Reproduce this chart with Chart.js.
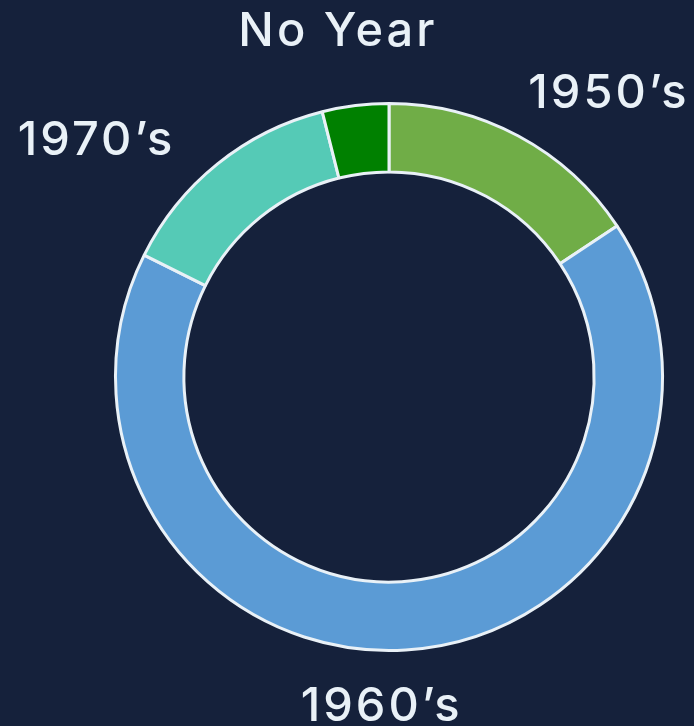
<!DOCTYPE html>
<html>
<head>
<meta charset="utf-8">
<script src="https://cdn.jsdelivr.net/npm/chart.js@4"></script>
<style>
  html, body { margin: 0; padding: 0; background: #15213b; }
  #wrap { width: 694px; height: 726px; }
</style>
</head>
<body>
<div id="wrap"><canvas id="chartDecades"></canvas></div>
<script>
const labels = ['1950\u2019s', '1960\u2019s', '1970\u2019s', 'No Year'];
const counts = [8, 34, 7, 2];
const colors = ['#70ad47', '#5b9bd5', '#55cab6', '#008000'];

const textColor = '#e9f1f7';
const edge = '#e9f1f7';

// labels outside the ring, on an ellipse around the centre (+ small nudge each)
const outsideLabels = {
  id: 'outsideLabels',
  afterDatasetsDraw(chart, args, opts) {
    const ctx = chart.ctx;
    const meta = chart.getDatasetMeta(0);
    const nudge = opts.nudge || [];
    ctx.save();
    ctx.font = '500 47px Inter, "Noto Sans", sans-serif';
    ctx.letterSpacing = '3px';
    ctx.fillStyle = textColor;
    ctx.textAlign = 'center';
    ctx.textBaseline = 'middle';
    meta.data.forEach(function (arc, i) {
      const p = arc.getProps(['x', 'y', 'startAngle', 'endAngle', 'outerRadius'], true);
      const mid = (p.startAngle + p.endAngle) / 2;
      const n = nudge[i] || [0, 0];
      const x = p.x + Math.cos(mid) * p.outerRadius * 1.7 + n[0];
      const y = p.y + Math.sin(mid) * p.outerRadius * 1.21 + n[1];
      ctx.fillText(chart.data.labels[i], x, y);
    });
    ctx.restore();
  }
};

new Chart(document.getElementById('chartDecades'), {
  type: 'doughnut',
  data: {
    labels: labels,
    datasets: [{
      data: counts,
      backgroundColor: colors,
      borderColor: edge,
      borderWidth: 3,
    }],
  },
  options: {
    responsive: true,
    maintainAspectRatio: false,
    animation: false,
    cutout: '75%',
    layout: { padding: { left: 114, right: 30, top: 102, bottom: 74 } },
    plugins: {
      legend: { display: false },
      tooltip: { enabled: false },
      outsideLabels: { nudge: [[0, 8], [-36, 0], [-1, 22], [6, -17]] },
    },
  },
  plugins: [outsideLabels],
});
</script>
</body>
</html>
